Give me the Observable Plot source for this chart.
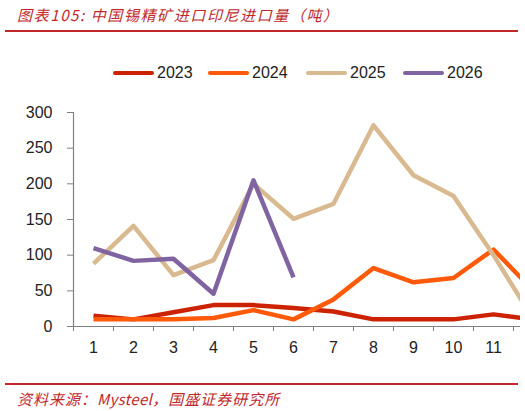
<!DOCTYPE html>
<html><head><meta charset="utf-8">
<script src="https://cdn.jsdelivr.net/npm/d3@7"></script>
<script src="https://cdn.jsdelivr.net/npm/@observablehq/plot@0.6"></script>
<style>
body{margin:0;background:#fff;width:525px;height:411px;overflow:hidden;position:relative;font-family:"Liberation Sans",Arial,sans-serif;}
#title{position:absolute;left:17px;top:4px;font:italic 15px "Noto Sans CJK SC",sans-serif;color:#c0282d;white-space:nowrap;letter-spacing:1.6px;}
.rule{position:absolute;left:5px;width:513px;height:2px;background:#c0282d;}
#foot{position:absolute;left:17px;top:388px;font:italic 15px "Noto Sans CJK SC",sans-serif;color:#c0282d;white-space:nowrap;letter-spacing:1px;}
#foot .lat{letter-spacing:0.3px;}
#legend{position:absolute;left:0;top:63px;width:525px;height:20px;z-index:2;}
.item{position:absolute;top:0;display:flex;align-items:center;height:20px;font-size:16px;color:#222;}
.sw{width:41px;height:4px;border-radius:2px;margin-right:3px;}
#chart{position:absolute;left:0;top:40px;z-index:1;}
</style></head>
<body>
<div id="title">图表105:  中国锡精矿进口印尼进口量（吨）</div>
<div class="rule" style="top:30px"></div>
<div id="legend"></div>
<div id="chart"></div>
<div class="rule" style="top:383px"></div>
<div id="foot">资料来源：<span class="lat">Mysteel</span>，国盛证券研究所</div>
<script>
const months = [1,2,3,4,5,6,7,8,9,10,11,12];
const monthLabels = ["1","2","3","4","5","6","7","8","9","10","11","12"];
const s2023 = [15,10,20,30,30,26,21,10,10,10,17,10];
const s2024 = [10,10,10,12,23,10,38,82,62,68,108,50];
const s2025 = [88,141,72,93,200,151,172,282,212,183,100,10];
const s2026 = [110,92,95,46,205,69];
const seriesNames = ["2023","2024","2025","2026"];
const seriesColors = ["#cc2200","#ff5a0a","#d9b990","#8064a2"];
const yTicks = [0,50,100,150,200,250,300];

const allSeries = [s2023,s2024,s2025,s2026];
const data = [];
allSeries.forEach((arr,i)=>arr.forEach((v,j)=>data.push({month:months[j],value:v,series:seriesNames[i]})));

// legend
const leg = document.getElementById("legend");
const legX = [113,208,306,403];
seriesNames.forEach((n,i)=>{
  const d = document.createElement("div");
  d.className="item"; d.style.left=legX[i]+"px";
  d.innerHTML = `<div class="sw" style="background:${seriesColors[i]}"></div><span>${n}</span>`;
  leg.appendChild(d);
});

const axisColor = "#808080";
const chart = Plot.plot({
  width:525, height:330,
  marginTop:72, marginBottom:44, marginLeft:73, marginRight:5,
  style:{fontFamily:"Liberation Sans, Arial, sans-serif", fontSize:"16px", color:"#222", background:"transparent"},
  x:{domain:[0.5,11.675], axis:null},
  y:{domain:[0,300], axis:null},
  color:{domain:seriesNames, range:seriesColors},
  marks:[
    Plot.line(data,{x:"month",y:"value",z:"series",stroke:"series",strokeWidth:4.5,strokeLinejoin:"round",strokeLinecap:"butt",clip:true}),
    Plot.ruleY([0],{stroke:axisColor,strokeWidth:1.2}),
    Plot.ruleX([0.5],{y1:0,y2:300,stroke:axisColor,strokeWidth:1.2}),
    Plot.axisY(yTicks,{tickSize:6,tickPadding:15,stroke:axisColor,fill:"#222",fontSize:16,label:null}),
    Plot.axisX(months.slice(0,11).map(m=>m+0.5).concat([0.5]),{tickSize:5,tickFormat:()=>"",stroke:axisColor,label:null}),
    Plot.axisX(months.slice(0,11),{tickSize:0,tickPadding:15,tickFormat:(d,i)=>monthLabels[d-1],fill:"#222",fontSize:16,label:null})
  ]
});
document.getElementById("chart").appendChild(chart);
</script>
</body></html>
